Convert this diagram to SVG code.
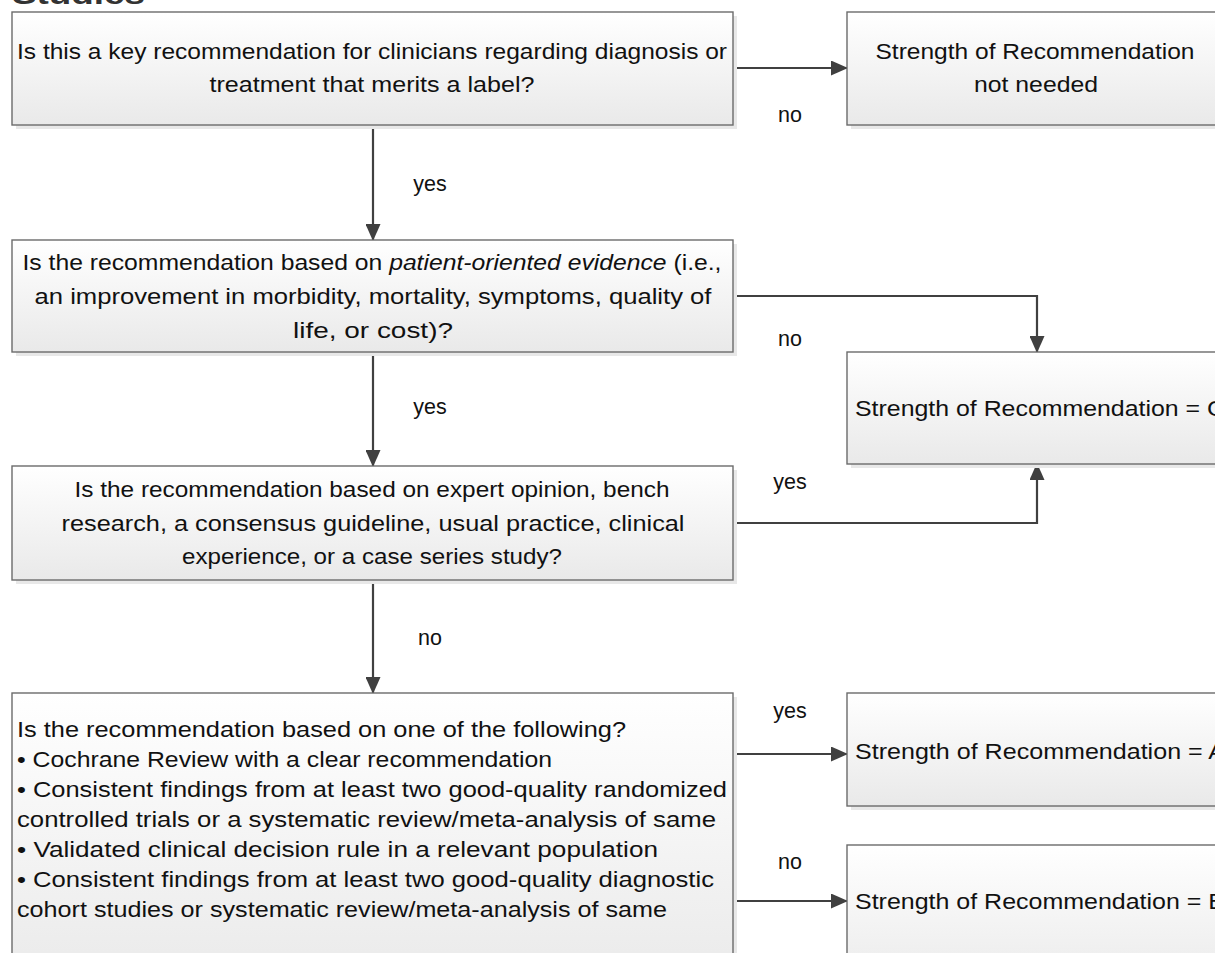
<svg xmlns="http://www.w3.org/2000/svg" width="1215" height="953" viewBox="0 0 1215 953">
<defs>
<linearGradient id="g" x1="0" y1="0" x2="0" y2="1">
<stop offset="0" stop-color="#ffffff"/>
<stop offset="1" stop-color="#e9e9e9"/>
</linearGradient>
<marker id="ah" markerWidth="17" markerHeight="15" refX="16" refY="7.5" orient="auto" markerUnits="userSpaceOnUse">
<path d="M0,0 L17,7.5 L0,15 Z" fill="#404040"/>
</marker>
</defs>
<style>
.sh{fill:#e8e8e8}
.bx{fill:url(#g);stroke:#6b6b6b;stroke-width:1.4}
text{font-family:"Liberation Sans",Arial,sans-serif;font-size:21.5px;fill:#111}
.c{text-anchor:middle}
.ln{fill:none;stroke:#404040;stroke-width:2.2}
.ttl{font-weight:bold;font-size:28px;fill:#333}
</style>
<text class="ttl" x="12" y="4" textLength="133" lengthAdjust="spacingAndGlyphs">Studies</text>

<g id="connectors">
<path class="ln" d="M733,68 H847" marker-end="url(#ah)"/>
<path class="ln" d="M373,125 V240" marker-end="url(#ah)"/>
<path class="ln" d="M733,296 H1037 V352" marker-end="url(#ah)"/>
<path class="ln" d="M373,352 V466" marker-end="url(#ah)"/>
<path class="ln" d="M733,523 H1037 V464" marker-end="url(#ah)"/>
<path class="ln" d="M373,580 V693" marker-end="url(#ah)"/>
<path class="ln" d="M733,754 H847" marker-end="url(#ah)"/>
<path class="ln" d="M733,901 H847" marker-end="url(#ah)"/>
<text x="790" y="122" class="c">no</text>
<text x="430" y="191" class="c">yes</text>
<text x="790" y="346" class="c">no</text>
<text x="430" y="414" class="c">yes</text>
<text x="790" y="489" class="c">yes</text>
<text x="430" y="645" class="c">no</text>
<text x="790" y="718" class="c">yes</text>
<text x="790" y="869" class="c">no</text>
</g>

<g id="q1">
<rect class="sh" x="16" y="16" width="721" height="113"/>
<rect class="bx" x="12" y="12" width="721" height="113"/>
<text class="c" x="372" y="59" textLength="710" lengthAdjust="spacingAndGlyphs">Is this a key recommendation for clinicians regarding diagnosis or</text>
<text class="c" x="372" y="92" textLength="325" lengthAdjust="spacingAndGlyphs">treatment that merits a label?</text>
</g>

<g id="notneeded">
<rect class="sh" x="851" y="16" width="376" height="113"/>
<rect class="bx" x="847" y="12" width="376" height="113"/>
<text class="c" x="1035" y="59" textLength="319" lengthAdjust="spacingAndGlyphs">Strength of Recommendation</text>
<text class="c" x="1036" y="92" textLength="124" lengthAdjust="spacingAndGlyphs">not needed</text>
</g>

<g id="q2">
<rect class="sh" x="16" y="244" width="721" height="112"/>
<rect class="bx" x="12" y="240" width="721" height="112"/>
<text class="c" x="372" y="270" textLength="699" lengthAdjust="spacingAndGlyphs">Is the recommendation based on <tspan font-style="italic">patient-oriented evidence</tspan> (i.e.,</text>
<text class="c" x="373" y="304" textLength="677" lengthAdjust="spacingAndGlyphs">an improvement in morbidity, mortality, symptoms, quality of</text>
<text class="c" x="373" y="338" textLength="160" lengthAdjust="spacingAndGlyphs">life, or cost)?</text>
</g>

<g id="gradeC">
<rect class="sh" x="851" y="356" width="376" height="112"/>
<rect class="bx" x="847" y="352" width="376" height="112"/>
<text x="855" y="416" textLength="370" lengthAdjust="spacingAndGlyphs">Strength of Recommendation = C</text>
</g>

<g id="q3">
<rect class="sh" x="16" y="470" width="721" height="114"/>
<rect class="bx" x="12" y="466" width="721" height="114"/>
<text class="c" x="372" y="497" textLength="595" lengthAdjust="spacingAndGlyphs">Is the recommendation based on expert opinion, bench</text>
<text class="c" x="373" y="531" textLength="623" lengthAdjust="spacingAndGlyphs">research, a consensus guideline, usual practice, clinical</text>
<text class="c" x="372" y="564" textLength="380" lengthAdjust="spacingAndGlyphs">experience, or a case series study?</text>
</g>

<g id="q4">
<rect class="sh" x="16" y="697" width="721" height="300"/>
<rect class="bx" x="12" y="693" width="721" height="300"/>
<text x="17" y="737" textLength="609" lengthAdjust="spacingAndGlyphs">Is the recommendation based on one of the following?</text>
<text x="17" y="767" textLength="535" lengthAdjust="spacingAndGlyphs">• Cochrane Review with a clear recommendation</text>
<text x="17" y="797" textLength="710" lengthAdjust="spacingAndGlyphs">• Consistent findings from at least two good-quality randomized</text>
<text x="17" y="827" textLength="699" lengthAdjust="spacingAndGlyphs">controlled trials or a systematic review/meta-analysis of same</text>
<text x="17" y="857" textLength="641" lengthAdjust="spacingAndGlyphs">• Validated clinical decision rule in a relevant population</text>
<text x="17" y="887" textLength="697" lengthAdjust="spacingAndGlyphs">• Consistent findings from at least two good-quality diagnostic</text>
<text x="17" y="917" textLength="650" lengthAdjust="spacingAndGlyphs">cohort studies or systematic review/meta-analysis of same</text>
</g>

<g id="gradeA">
<rect class="sh" x="851" y="697" width="376" height="113"/>
<rect class="bx" x="847" y="693" width="376" height="113"/>
<text x="855" y="759" textLength="370" lengthAdjust="spacingAndGlyphs">Strength of Recommendation = A</text>
</g>

<g id="gradeB">
<rect class="sh" x="851" y="849" width="376" height="150"/>
<rect class="bx" x="847" y="845" width="376" height="150"/>
<text x="855" y="909" textLength="370" lengthAdjust="spacingAndGlyphs">Strength of Recommendation = B</text>
</g>
</svg>
